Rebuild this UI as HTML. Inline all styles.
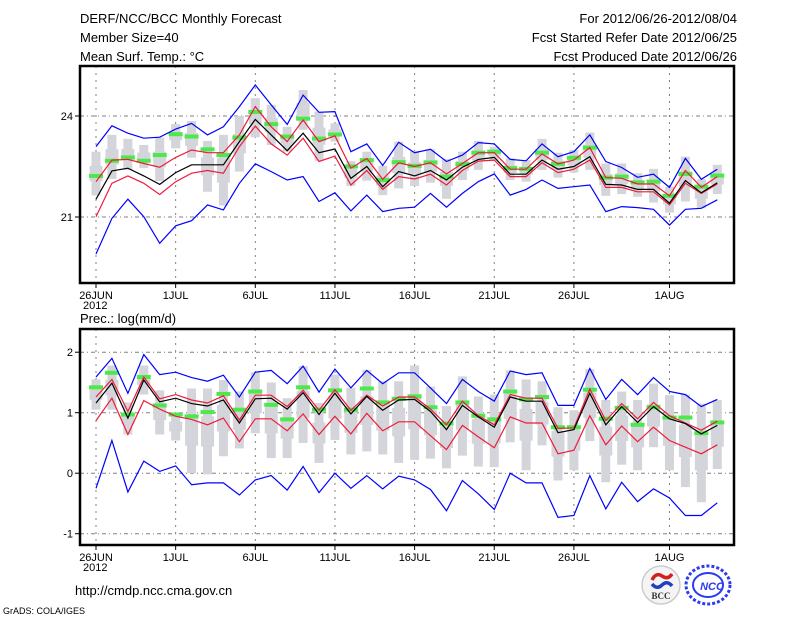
<!DOCTYPE html>
<html><head><meta charset="utf-8"><style>
html,body{margin:0;padding:0;background:#fff;}
svg{display:block;font-family:"Liberation Sans",sans-serif;}
</style></head><body>
<svg id="c" width="800" height="618" viewBox="0 0 800 618" xmlns="http://www.w3.org/2000/svg">
<g font-size="13" fill="#000">
<text x="80" y="23">DERF/NCC/BCC Monthly Forecast</text>
<text x="80" y="42">Member Size=40</text>
<text x="80" y="61">Mean Surf. Temp.: °C</text>
<text x="737" y="23" text-anchor="end">For 2012/06/26-2012/08/04</text>
<text x="737" y="42" text-anchor="end">Fcst Started Refer Date 2012/06/25</text>
<text x="737" y="61" text-anchor="end">Fcst Produced Date 2012/06/26</text>
<text x="80" y="323">Prec.: log(mm/d)</text>
<text x="75" y="595" font-size="13">http://cmdp.ncc.cma.gov.cn</text>
<text x="3" y="614" font-size="9">GrADS: COLA/IGES</text>
</g>
<g id="top"></g>
<g id="bot"></g>
<g>
<circle cx="661" cy="585" r="19" fill="#f4f4f4" stroke="#ccc" stroke-width="1.5"/>
<path d="M652 580 q4 -8 10 -4 q6 4 10 -2" stroke="#d02020" stroke-width="3.5" fill="none"/>
<path d="M652 584 q5 6 10 1 q5 -5 10 1" stroke="#2040c0" stroke-width="3.5" fill="none"/>
<text x="661" y="599" font-size="9" font-weight="bold" text-anchor="middle" fill="#333" font-family="Liberation Serif,serif">BCC</text>
</g>
<g>
<ellipse cx="708" cy="585" rx="22" ry="19" fill="none" stroke="#2a3cf0" stroke-width="3" stroke-dasharray="3,2"/>
<ellipse cx="708" cy="585" rx="15" ry="12" fill="none" stroke="#2a3cf0" stroke-width="2"/>
<text x="712" y="590" font-size="11" font-weight="bold" font-style="italic" text-anchor="middle" fill="#2a3cf0">NCC</text>
</g>
</svg>
<script>
// ---- Temperature panel data (°C) ----
const tMean=[21.53,22.37,22.45,22.22,21.97,22.32,22.55,22.55,22.55,23.24,23.90,23.44,22.97,23.49,22.91,23.02,22.15,22.50,21.90,22.35,22.22,22.38,22.10,22.48,22.71,22.77,22.27,22.27,22.69,22.42,22.50,22.79,21.97,21.95,21.82,21.82,21.41,22.08,21.72,22.02];
const tRedHi=[22.05,22.69,22.71,22.59,22.48,22.77,22.99,22.91,22.91,23.44,24.28,23.68,23.24,23.88,23.24,23.41,22.45,22.74,22.12,22.61,22.50,22.61,22.28,22.59,22.91,22.91,22.42,22.42,22.87,22.58,22.69,23.06,22.17,22.15,21.98,21.98,21.63,22.38,21.88,22.20];
const tRedLo=[21.01,22.00,22.22,22.00,21.67,22.05,22.30,22.38,22.30,23.09,23.70,23.17,22.84,23.34,22.65,22.81,21.95,22.38,21.82,22.20,22.13,22.27,21.95,22.38,22.66,22.69,22.20,22.20,22.61,22.32,22.42,22.69,21.88,21.88,21.75,21.75,21.36,22.00,21.70,21.98];
const tBlueHi=[23.09,23.71,23.49,23.34,23.37,23.61,23.78,23.44,23.68,24.28,24.92,24.33,23.75,24.62,24.11,24.13,22.94,23.17,22.53,23.22,22.91,23.01,22.65,22.84,23.21,23.17,22.71,22.67,23.17,22.79,22.94,23.44,22.65,22.47,22.18,22.27,21.88,22.74,22.12,22.42];
const tBlueLo=[19.90,20.96,21.53,21.01,20.22,20.74,20.89,21.36,21.21,22.00,22.58,22.35,22.10,22.20,21.46,21.72,21.18,21.65,21.16,21.26,21.29,21.70,21.29,21.70,22.05,22.28,21.65,21.82,22.10,21.85,21.90,21.95,21.16,21.31,21.28,21.23,20.76,21.23,21.26,21.51];
const tGreen=[22.22,22.67,22.77,22.67,22.84,23.46,23.39,23.01,22.84,23.36,24.12,23.76,23.39,23.92,23.33,23.45,22.50,22.69,22.10,22.63,22.52,22.62,22.20,22.57,22.91,22.94,22.45,22.43,22.91,22.58,22.76,23.06,22.17,22.20,22.03,22.05,21.63,22.28,21.90,22.23];
const tGreyHi=[22.94,23.44,23.32,23.14,23.36,23.76,23.85,23.26,23.44,24.00,24.53,24.33,23.68,24.77,24.13,23.78,22.66,22.94,22.52,23.24,22.96,23.01,22.72,22.94,23.26,23.09,22.74,22.69,23.32,22.91,22.99,23.51,22.59,22.59,22.30,22.43,21.90,22.79,22.12,22.55];
const tGreyLo=[21.64,22.13,22.40,22.45,22.07,23.04,22.76,21.75,21.34,22.35,23.37,23.14,22.94,23.59,22.67,23.24,21.92,22.08,21.65,21.85,21.92,22.02,21.54,22.10,22.40,22.69,22.10,22.05,22.40,22.17,22.32,22.40,21.63,21.68,21.60,21.43,21.13,21.46,21.26,21.68];
const tTicks=[24,21];
// ---- Precipitation panel data (log mm/d) ----
const pMean=[1.16,1.49,0.91,1.54,1.18,1.24,1.15,1.11,1.21,0.83,1.23,1.24,1.06,1.33,0.97,1.32,0.98,1.27,1.04,1.21,1.22,1.02,0.72,1.12,0.93,0.76,1.26,1.19,1.19,0.67,0.72,1.32,0.80,1.10,0.84,1.10,0.90,0.82,0.65,0.79];
const pRedHi=[1.26,1.55,1.02,1.59,1.23,1.30,1.21,1.16,1.28,0.88,1.29,1.29,1.10,1.37,1.04,1.38,1.04,1.29,1.11,1.26,1.26,1.06,0.80,1.19,0.95,0.80,1.30,1.24,1.24,0.74,0.75,1.39,0.87,1.15,0.90,1.17,0.95,0.83,0.71,0.86];
const pRedLo=[0.87,1.24,0.64,1.20,1.06,0.94,0.89,0.80,0.91,0.52,0.90,0.90,0.70,0.98,0.64,0.94,0.65,0.99,0.70,0.85,0.85,0.62,0.39,0.79,0.60,0.42,0.93,0.83,0.83,0.32,0.38,0.95,0.47,0.78,0.52,0.76,0.54,0.43,0.32,0.47];
const pBlueHi=[1.59,1.90,1.32,1.96,1.63,1.67,1.58,1.52,1.62,1.26,1.67,1.70,1.48,1.77,1.34,1.72,1.41,1.70,1.48,1.66,1.66,1.41,1.15,1.55,1.35,1.19,1.69,1.63,1.66,1.12,1.12,1.73,1.22,1.55,1.30,1.58,1.35,1.30,1.10,1.22];
const pBlueLo=[-0.25,0.54,-0.31,0.20,0.03,0.12,-0.19,-0.16,-0.16,-0.36,-0.11,-0.04,-0.28,0.11,-0.32,0.00,-0.25,-0.04,-0.26,-0.05,-0.11,-0.27,-0.62,-0.12,-0.34,-0.60,0.00,-0.16,-0.16,-0.73,-0.70,-0.04,-0.59,-0.15,-0.47,-0.26,-0.41,-0.70,-0.70,-0.49];
const pGreen=[1.42,1.66,0.97,1.59,1.12,0.97,0.94,1.01,1.31,1.05,1.35,1.13,0.89,1.42,1.05,1.37,1.05,1.40,1.17,1.23,1.27,1.09,0.82,1.17,0.95,0.89,1.35,1.22,1.26,0.76,0.76,1.38,0.90,1.08,0.80,1.09,0.92,0.92,0.66,0.84];
const pGreyHi=[1.55,1.78,1.17,1.78,1.37,1.00,1.40,1.40,1.54,1.35,1.67,1.50,1.24,1.77,1.16,1.63,1.41,1.71,1.52,1.52,1.78,1.43,1.11,1.60,1.27,1.30,1.70,1.55,1.52,1.09,1.04,1.72,1.21,1.35,1.21,1.48,1.29,1.30,1.15,1.21];
const pGreyLo=[1.05,1.05,0.64,1.30,0.64,0.54,0.00,-0.02,0.28,0.41,0.66,0.25,0.25,0.50,0.17,0.55,0.31,0.36,0.31,0.17,0.22,0.24,0.08,0.29,0.11,0.10,0.51,0.05,0.46,-0.12,0.05,0.53,-0.15,0.14,0.05,0.43,0.05,-0.23,-0.48,0.07];
const pTicks=[2,1,0,-1];
// ---- x axis ----
const xTickDays=[0,5,10,15,20,25,30,36];
const xTickLabels=["26JUN","1JUL","6JUL","11JUL","16JUL","21JUL","26JUL","1AUG"];

const NS="http://www.w3.org/2000/svg";
function xs(d){return 96+d*15.93;}
function mk(parent,tag,attrs){const e=document.createElementNS(NS,tag);for(const k in attrs)e.setAttribute(k,attrs[k]);parent.appendChild(e);return e;}

function panel(g,box,ys,ticks,series,prefix){
  // grid
  xTickDays.forEach((d,i)=>{
    const l=mk(g,'line',{x1:xs(d),x2:xs(d),y1:box.t,y2:box.b,stroke:'#808080','stroke-dasharray':'2,5'});
    
    
    const tk=mk(g,'line',{x1:xs(d),x2:xs(d),y1:box.b,y2:box.b+5,stroke:'#000'});
    
    
    const t=mk(g,'text',{x:xs(d),y:box.b+16,'font-size':11,'text-anchor':'middle'});
    t.textContent=xTickLabels[i];
    
    
  });
  const yr=mk(g,'text',{x:xs(0)-13,y:box.b+26,'font-size':11});
  yr.textContent='2012';
  
  
  ticks.forEach(v=>{
    const y=ys(v);
    const l=mk(g,'line',{x1:box.l,x2:box.r,y1:y,y2:y,stroke:'#808080','stroke-dasharray':'4,3,1,3'});
    
    
    const tk=mk(g,'line',{x1:box.l-5,x2:box.l,y1:y,y2:y,stroke:'#000'});
    
    
    const t=mk(g,'text',{x:box.l-7,y:y+4,'font-size':11,'text-anchor':'end'});
    t.textContent=String(v);
    
    
  });
  // grey spread bars
  series.gHi.forEach((v,i)=>{
    const y1=ys(v),y2=ys(series.gLo[i]);
    const r=mk(g,'rect',{x:xs(i)-4.5,y:y1,width:9,height:Math.max(1,y2-y1),fill:'#d4d5da'});
    
    
    const m=(y1+y2)/2,h=(y2-y1)*0.35;
    const r2=mk(g,'rect',{x:xs(i)-6.5,y:m-h/2,width:13,height:h,fill:'#d4d5da'});
    
    
  });
  // green markers
  series.green.forEach((v,i)=>{
    const r=mk(g,'rect',{x:xs(i)-7,y:ys(v)-2,width:14,height:4,fill:'#4ce84c'});
    
    
  });
  const lines=[[series.bHi,'#0000ff','upper-blue'],[series.bLo,'#0000ff','lower-blue'],[series.rHi,'#ee1c3c','upper-red'],[series.rLo,'#ee1c3c','lower-red'],[series.mean,'#000','mean']];
  lines.forEach(([arr,c,n])=>{
    const p=mk(g,'polyline',{points:arr.map((v,i)=>xs(i).toFixed(1)+','+ys(v).toFixed(1)).join(' '),fill:'none',stroke:c,'stroke-width':1.2});
    
    
  });
  const f=mk(g,'rect',{x:box.l,y:box.t,width:box.r-box.l,height:box.b-box.t,fill:'none',stroke:'#000','stroke-width':2.5});
  
  
}
const topBox={l:80,r:734,t:66,b:283};
const botBox={l:80,r:734,t:329,b:545};
const ysT=v=>116+(24-v)*33.67;
const ysB=v=>412.7+(1-v)*60.5;
panel(document.getElementById('top'),topBox,ysT,tTicks,{gHi:tGreyHi,gLo:tGreyLo,green:tGreen,bHi:tBlueHi,bLo:tBlueLo,rHi:tRedHi,rLo:tRedLo,mean:tMean},'temp');
panel(document.getElementById('bot'),botBox,ysB,pTicks,{gHi:pGreyHi,gLo:pGreyLo,green:pGreen,bHi:pBlueHi,bLo:pBlueLo,rHi:pRedHi,rLo:pRedLo,mean:pMean},'prec');
</script>
</body></html>
